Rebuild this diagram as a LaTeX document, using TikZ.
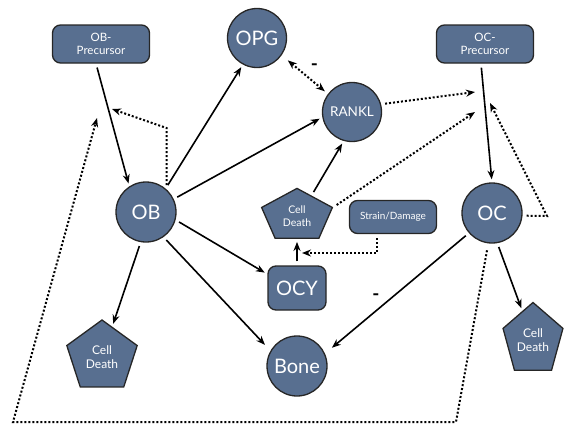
\documentclass[tikz,border=0pt]{standalone}
\usepackage{fontspec}
\setmainfont{Lato}
\usetikzlibrary{arrows.meta,shapes.geometric,calc}
\definecolor{cellblue}{HTML}{586F90}

\begin{document}
\begin{tikzpicture}[
  x=1pt, y=-1pt,
  cell/.style={fill=cellblue, draw=black!85, line width=1.3pt, text=white, inner sep=0pt},
  roundbox/.style={cell, rounded corners=8pt, align=center},
  bigcircle/.style={cell, circle, minimum size=60pt, font=\fontsize{20}{22}\selectfont},
  pentagon/.style={cell, regular polygon, regular polygon sides=5},
  celltext/.style={text=white, align=center, inner sep=0pt, font=\fontsize{12}{13.5}\selectfont},
  link/.style={-{Stealth[length=9pt,width=7pt]}, line width=1.6pt, shorten <=4pt, shorten >=3pt},
  dotline/.style={line width=2pt, dash pattern=on 2pt off 2pt, shorten <=4pt},
  feedback/.style={dotline, -{Stealth[length=9pt,width=7pt]}},
  minus/.style={font=\bfseries\fontsize{19}{19}\selectfont, inner sep=0pt}
]
  \useasboundingbox (0,0) rectangle (566,424);

  \node[roundbox, minimum width=97pt, minimum height=38pt, font=\fontsize{11.5}{13}\selectfont] (obpre) at (101,44) {OB-\\Precursor};
  \node[roundbox, minimum width=97pt, minimum height=38pt, font=\fontsize{11.5}{13}\selectfont] (ocpre) at (485,44) {OC-\\Precursor};
  \node[bigcircle, minimum size=59pt] (opg) at (257,38) {OPG};
  \node[bigcircle, minimum size=59pt, font=\fontsize{13.5}{15}\selectfont] (rankl) at (352,112) {RANKL};
  \node[bigcircle] (ob) at (146,212) {OB};
  \node[bigcircle] (oc) at (492,213) {OC};
  \node[bigcircle] (bone) at (297,366) {Bone};
  \node[roundbox, minimum width=58pt, minimum height=44pt, font=\fontsize{20}{22}\selectfont] (ocy) at (297,288) {OCY};
  \node[roundbox, minimum width=87pt, minimum height=33pt, font=\fontsize{10}{12}\selectfont] (strain) at (393,217) {Strain/Damage};

  \node[pentagon, minimum size=60pt, xscale=1.24, yscale=0.92] (cdmid) at (297,216) {};
  \node[celltext, font=\fontsize{10.5}{12.5}\selectfont] (cdmidtext) at (cdmid) {Cell\\Death};
  \node[pentagon, minimum size=74pt] (cdob) at (102,357) {};
  \node[celltext] (cdobtext) at (cdob) {Cell\\Death};
  \node[pentagon, minimum size=75pt, xscale=0.84] (cdoc) at (533,340) {};
  \node[celltext] (cdoctext) at (cdoc) {Cell\\Death};

  \node[minus] (minusopg) at (314.5,67) {-};
  \node[minus] (minusbone) at (376,297) {-};

  \coordinate (obbend) at (168,128);
  \coordinate (obback) at (112,109);
  \coordinate (ranklend) at (475,92);
  \coordinate (cdmidend) at (475,112);
  \coordinate (strainend) at (302,253);
  \coordinate (ocbend) at (547,216);
  \coordinate (ocend) at (490,103);
  \coordinate (loopright) at (456,422);
  \coordinate (loopleft) at (13,422);
  \coordinate (loopend) at (97,118);

  \draw[link] ([xshift=-5pt]obpre.south) -- (ob.123);
  \draw[link] (ob.50) -- (opg.242);
  \draw[link] (ob.25) -- (rankl.190);
  \draw[link] (ob.-15) -- (ocy.155);
  \draw[link, shorten >=8pt] (ob.-55) -- (bone.150);
  \draw[link] (ob.-100) -- (cdob);
  \draw[link] ($(cdmid.corner 1)!0.4!(cdmid.corner 5)$) -- (rankl.254);
  \draw[link] (ocy) -- (cdmid);
  \draw[link] ([xshift=-4pt]ocpre.south) -- (oc.north);
  \draw[link, shorten >=9pt] (oc.221) -- (bone.24);
  \draw[link] (oc.-80) -- (cdoc);

  \draw[feedback] (ob.48) -- (ob.48 |- obbend) -- (obback);
  \draw[dotline, {Stealth[length=9pt,width=7pt]}-{Stealth[length=9pt,width=7pt]}, shorten <=8pt, shorten >=4pt] (opg.-35) -- (rankl.143);
  \draw[feedback] (rankl.15) -- (ranklend);
  \draw[feedback] (cdmid.corner 5) -- (cdmidend);
  \draw[feedback] ([xshift=-16pt]strain.south) |- (strainend);
  \draw[feedback] (oc.-5) -- (ocbend) -- (ocend);
  \draw[feedback, shorten <=7pt] (oc.-97) -- (loopright) -- (loopleft) -- (loopend);
\end{tikzpicture}
\end{document}
